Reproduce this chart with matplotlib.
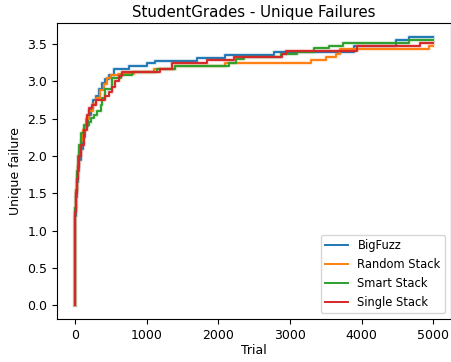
import matplotlib
matplotlib.use("Agg")
import matplotlib.pyplot as plt

title = "StudentGrades - Unique Failures"
series_names = ["BigFuzz", "Random Stack", "Smart Stack", "Single Stack"]
colors = ["#1f77b4", "#ff7f0e", "#2ca02c", "#d62728"]
end_trial = 5000

bigfuzz_trials = [0, 3, 8, 15, 25, 40, 60, 85, 110, 140, 180, 220, 260, 300, 340, 380, 420, 470, 540, 750, 1000, 1120, 1700, 2100, 2780, 3900, 4475, 4665]
bigfuzz_values = [0, 0.9, 1.2, 1.45, 1.65, 1.8, 1.95, 2.1, 2.25, 2.4, 2.55, 2.65, 2.75, 2.8, 2.9, 2.98, 3.03, 3.08, 3.16, 3.21, 3.24, 3.28, 3.32, 3.36, 3.40, 3.47, 3.555, 3.60]

random_trials = [0, 3, 8, 15, 25, 40, 60, 90, 120, 160, 200, 250, 300, 350, 400, 450, 500, 600, 820, 1100, 1400, 2090, 3290, 3510, 3640, 3700, 4940]
random_values = [0, 1.0, 1.3, 1.55, 1.75, 1.9, 2.05, 2.2, 2.35, 2.5, 2.6, 2.7, 2.78, 2.88, 2.97, 3.05, 3.08, 3.10, 3.13, 3.16, 3.20, 3.25, 3.29, 3.33, 3.37, 3.43, 3.48]

smart_trials = [0, 3, 8, 15, 25, 40, 60, 85, 130, 200, 220, 265, 310, 360, 385, 420, 520, 650, 800, 1150, 1400, 2150, 2250, 2360, 2870, 3095, 3330, 3540, 3740, 4665]
smart_values = [0, 0.95, 1.3, 1.55, 1.8, 2.0, 2.15, 2.31, 2.42, 2.46, 2.51, 2.55, 2.60, 2.69, 2.78, 2.9, 3.04, 3.08, 3.12, 3.16, 3.20, 3.25, 3.30, 3.33, 3.37, 3.40, 3.45, 3.48, 3.52, 3.555]

single_trials = [0, 3, 8, 15, 25, 40, 60, 90, 130, 175, 200, 245, 290, 420, 470, 520, 565, 610, 660, 1190, 1350, 1850, 2225, 2890, 2940, 3940, 4820]
single_values = [0, 0.9, 1.25, 1.5, 1.7, 1.85, 2.0, 2.15, 2.35, 2.55, 2.64, 2.69, 2.75, 2.80, 2.86, 2.92, 3.0, 3.07, 3.12, 3.16, 3.24, 3.29, 3.33, 3.37, 3.41, 3.47, 3.52]

xticks = [0, 1000, 2000, 3000, 4000, 5000]
yticks = [0.0, 0.5, 1.0, 1.5, 2.0, 2.5, 3.0, 3.5]

plt.rcParams["font.size"] = 9

fig = plt.figure(figsize=(4.52, 3.62), dpi=100)
ax = fig.add_axes([0.126, 0.119, 0.872, 0.817])

all_series = [
    (bigfuzz_trials, bigfuzz_values),
    (random_trials, random_values),
    (smart_trials, smart_values),
    (single_trials, single_values),
]

for (t, v), name, c in zip(all_series, series_names, colors):
    tt = list(t) + [end_trial]
    vv = list(v) + [v[-1]]
    ax.plot(tt, vv, drawstyle="steps-post", color=c, lw=3.0, alpha=0.18)
    ax.plot(tt, vv, drawstyle="steps-post", color=c, lw=1.4, label=name)

ax.set_xticks(xticks)
ax.set_yticks(yticks)
ax.tick_params(labelsize=9)
ax.set_title(title, fontsize=10.8, pad=4.5)
ax.set_xlabel("Trial", fontsize=9, labelpad=2)
ax.set_ylabel("Unique failure", fontsize=9)
ax.legend(loc="lower right", fontsize=8.3)

fig.savefig("out.png", dpi=100)
